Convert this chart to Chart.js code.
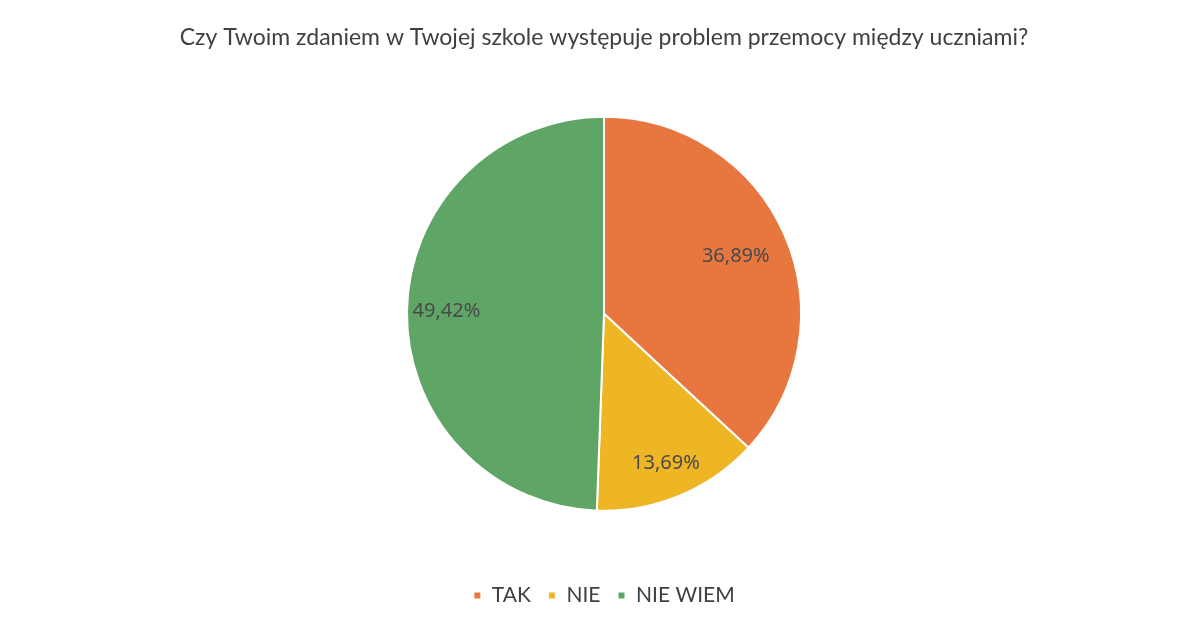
<!DOCTYPE html>
<html>
<head>
<meta charset="utf-8">
<script src="https://cdn.jsdelivr.net/npm/chart.js@4"></script>
<style>
  html, body { margin: 0; padding: 0; background: #fff; }
  #wrap { width: 1191px; height: 630px; position: relative; }
</style>
</head>
<body>
<div id="wrap"><canvas id="pie" width="1191" height="630"></canvas></div>
<script>
/* ── data ── */
const titleText = 'Czy Twoim zdaniem w Twojej szkole występuje problem przemocy między uczniami?';
const categories = ['TAK', 'NIE', 'NIE WIEM'];
const shares = [36.89, 13.69, 49.42];
const sliceColors = ['#E8773F', '#EEB624', '#5FA566'];
const labelRadius = [0.73, 0.82, 0.8];

const fmtPct = v => v.toFixed(2).replace('.', ',') + '%';

// draw percent labels inside slices
const sliceLabels = {
    id: 'sliceLabels',
    afterDatasetsDraw(chart) {
        const ctx = chart.ctx;
        const meta = chart.getDatasetMeta(0);
        ctx.save();
        ctx.font = '20px "Noto Sans", sans-serif';
        ctx.fillStyle = '#4a4a4a';
        ctx.textAlign = 'center';
        ctx.textBaseline = 'middle';
        meta.data.forEach((arc, i) => {
            const mid = (arc.startAngle + arc.endAngle) / 2;
            const r = arc.outerRadius * labelRadius[i];
            ctx.fillText(fmtPct(shares[i]), arc.x + Math.cos(mid) * r, arc.y + Math.sin(mid) * r);
        });
        ctx.restore();
    }
};

new Chart(document.getElementById('pie'), {
    type: 'pie',
    data: {
        labels: categories,
        datasets: [{ data: shares, backgroundColor: sliceColors, borderColor: '#ffffff', borderWidth: 2, radius: 197 }]
    },
    options: {
        responsive: false,
        animation: false,
        layout: { padding: { left: 17, top: 0, bottom: 14 } },
        plugins: {
            title: {
                display: true, text: titleText, color: '#404040',
                font: { family: 'Lato', size: 23, weight: 'normal' },
                padding: { top: 24, bottom: 8 }
            },
            legend: {
                position: 'bottom',
                labels: {
                    color: '#404040', boxWidth: 8, boxHeight: 8, padding: 17,
                    font: { family: 'Lato', size: 21 }
                }
            },
            tooltip: { enabled: false }
        }
    },
    plugins: [sliceLabels]
});
</script>
</body>
</html>
